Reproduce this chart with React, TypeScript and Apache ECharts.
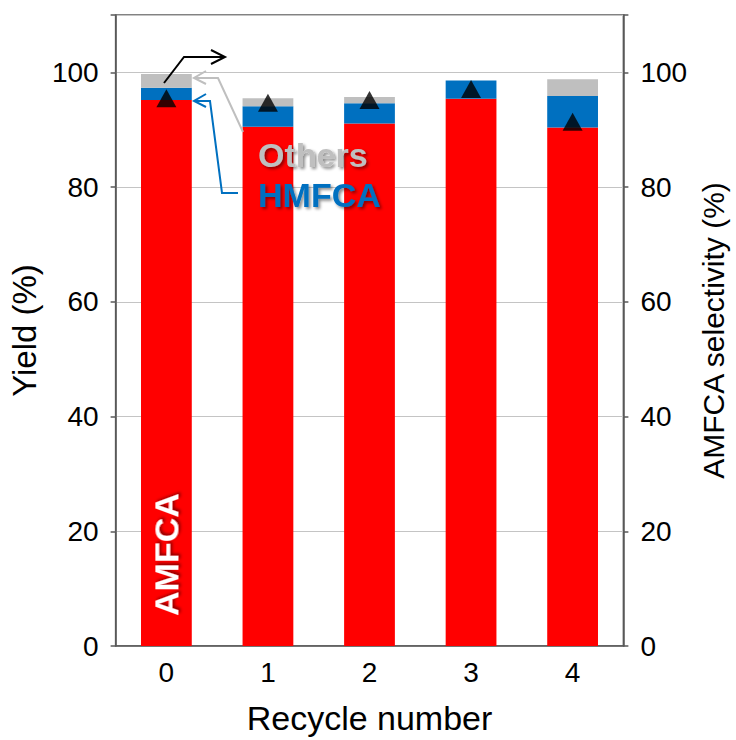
import React, { useEffect, useRef } from "react";
import * as echarts from "echarts";

// Recycle runs and stacked yields (%)
const recycleRuns = ["0", "1", "2", "3", "4"];
const amfcaYield = [95.2, 90.5, 91.1, 95.4, 90.4];
const hmfcaYield = [2.1, 3.6, 3.5, 3.2, 5.5];
const othersYield = [2.4, 1.4, 1.1, 0, 2.9];
// AMFCA selectivity (%) on the right axis
const amfcaSelectivity = [95.5, 94.7, 95.2, 97.1, 91.4];

const FONT = "'Liberation Sans', Arial, sans-serif";
const RED = "#ff0000";
const BLUE = "#0070c0";
const GREY = "#bfbfbf";
const AXIS = "#595959";

const shadow = {
  textShadowColor: "rgba(0,0,0,0.45)",
  textShadowBlur: 3,
  textShadowOffsetX: 2,
  textShadowOffsetY: 2,
};

export default function App() {
  const ref = useRef<HTMLDivElement>(null);

  useEffect(() => {
    document.body.style.margin = "0";
    if (!ref.current) return;
    const chart = echarts.init(ref.current, undefined, { renderer: "svg" });

    const valueAxis = (side: "left" | "right", name: string, gap: number, size: number) => ({
      type: "value" as const,
      position: side,
      min: 0,
      max: 110,
      interval: 20,
      name,
      nameLocation: "middle" as const,
      nameGap: gap,
      nameTextStyle: { fontSize: size, color: "#000", fontFamily: FONT },
      axisLine: { show: true, lineStyle: { color: AXIS, width: 1.5 } },
      axisTick: { show: true, length: 5, lineStyle: { color: AXIS, width: 1.5 } },
      axisLabel: {
        fontSize: 28,
        color: "#000",
        fontFamily: FONT,
        margin: 17,
        formatter: (v: number) => (v > 100 ? "" : String(v)),
      },
      splitLine: {
        show: side === "left",
        lineStyle: { color: "#c4c4c4", width: 1 },
      },
    });

    chart.setOption({
      animation: false,
      backgroundColor: "#fff",
      grid: {
        left: 112,
        right: 106,
        top: 15,
        bottom: 93,
        show: true,
        borderColor: AXIS,
        borderWidth: 1.5,
        backgroundColor: "transparent",
      },
      xAxis: {
        type: "category",
        data: recycleRuns,
        name: "Recycle number",
        nameLocation: "middle",
        nameGap: 55,
        nameTextStyle: { fontSize: 34, color: "#000", fontFamily: FONT },
        axisLine: { lineStyle: { color: AXIS, width: 1.5 } },
        axisTick: { show: false },
        axisLabel: { fontSize: 28, color: "#000", fontFamily: FONT, margin: 12 },
      },
      yAxis: [
        valueAxis("left", "Yield (%)", 67, 33),
        valueAxis("right", "AMFCA selectivity (%)", 71, 30),
      ],
      series: [
        {
          name: "AMFCA",
          type: "bar",
          stack: "yield",
          barWidth: "50%",
          itemStyle: { color: RED },
          data: amfcaYield.map((v, i) =>
            i === 0
              ? {
                  value: v,
                  label: {
                    show: true,
                    formatter: "AMFCA",
                    position: "insideBottom",
                    rotate: 90,
                    align: "left",
                    verticalAlign: "middle",
                    distance: 30,
                    color: "#fff",
                    fontSize: 34,
                    fontWeight: "bold",
                    fontFamily: FONT,
                    ...shadow,
                  },
                }
              : v
          ),
        },
        {
          name: "HMFCA",
          type: "bar",
          stack: "yield",
          barWidth: "50%",
          itemStyle: { color: BLUE },
          data: hmfcaYield,
        },
        {
          name: "Others",
          type: "bar",
          stack: "yield",
          barWidth: "50%",
          itemStyle: { color: GREY },
          data: othersYield,
        },
        {
          name: "AMFCA selectivity",
          type: "scatter",
          yAxisIndex: 1,
          symbol: "triangle",
          symbolSize: [20, 18],
          itemStyle: { color: "#000" },
          z: 10,
          data: amfcaSelectivity,
        },
      ],
      graphic: [
        {
          type: "text",
          left: 258,
          top: 138,
          z: 20,
          style: {
            text: "Others",
            fill: GREY,
            font: `bold 34px ${FONT}`,
            ...shadow,
          },
        },
        {
          type: "text",
          left: 258,
          top: 178,
          z: 20,
          style: {
            text: "HMFCA",
            fill: BLUE,
            font: `bold 34px ${FONT}`,
            ...shadow,
          },
        },
        // selectivity pointer (to the right axis)
        {
          type: "polyline",
          z: 20,
          shape: { points: [[164, 83], [184, 57], [225, 57]] },
          style: { stroke: "#000", lineWidth: 2, fill: "none" },
        },
        {
          type: "polyline",
          z: 20,
          shape: { points: [[211, 50], [225, 57], [211, 64]] },
          style: { stroke: "#000", lineWidth: 2, fill: "none" },
        },
        // Others pointer
        {
          type: "polyline",
          z: 20,
          shape: { points: [[243, 132], [218, 78], [194, 78]] },
          style: { stroke: GREY, lineWidth: 2, fill: "none" },
        },
        {
          type: "polyline",
          z: 20,
          shape: { points: [[206, 71], [194, 78], [206, 84]] },
          style: { stroke: GREY, lineWidth: 2, fill: "none" },
        },
        // HMFCA pointer
        {
          type: "polyline",
          z: 20,
          shape: { points: [[238, 193], [222, 193], [210, 101], [194, 101]] },
          style: { stroke: BLUE, lineWidth: 2, fill: "none" },
        },
        {
          type: "polyline",
          z: 20,
          shape: { points: [[206, 94], [194, 101], [206, 107]] },
          style: { stroke: BLUE, lineWidth: 2, fill: "none" },
        },
      ],
    });

    return () => chart.dispose();
  }, []);

  return <div ref={ref} style={{ width: 736, height: 740 }} />;
}
